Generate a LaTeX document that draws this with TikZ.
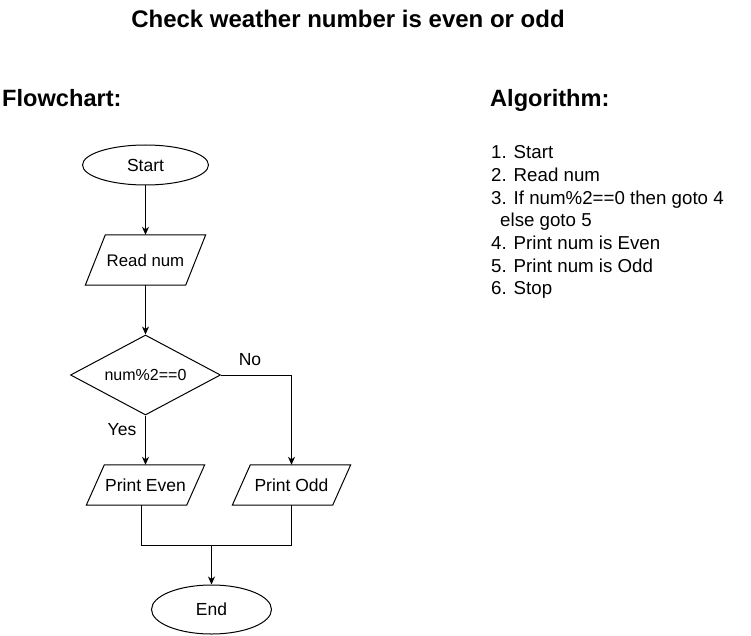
\documentclass[tikz,border=0pt]{standalone}
\usepackage{fontspec}
\setmainfont{Liberation Sans}
\usetikzlibrary{shapes.geometric,arrows.meta}
\tikzset{
  line/.style={draw=black,line width=1pt},
  arr/.style={line,-{Stealth[length=8pt,width=7pt,inset=2.5pt]}},
  oval/.style={ellipse,draw=black,line width=1pt,inner sep=0pt,font=\fontsize{17.5}{20}\selectfont},
  parabox/.style={rectangle,inner sep=0pt,minimum width=100pt,font=\fontsize{17.5}{20}\selectfont},
  decision/.style={diamond,draw=black,line width=1pt,inner sep=0pt,minimum width=150pt,minimum height=80pt,aspect=1.875,font=\fontsize{16}{18}\selectfont},
  lbl/.style={inner sep=0pt,font=\fontsize{17.5}{20}\selectfont},
  heading/.style={inner sep=0pt,anchor=base west,font=\fontsize{23.6}{28}\selectfont\bfseries},
  listline/.style={inner sep=0pt,anchor=base west,font=\fontsize{18.7}{22}\selectfont},
}
\begin{document}
\begin{tikzpicture}[x=1pt,y=-1pt]
\useasboundingbox[fill=white] (0,0) rectangle (751,636);
% title and headings
\node[inner sep=0pt,anchor=base,font=\fontsize{24}{28}\selectfont\bfseries] (title) at (348,28) {Check weather number is even or odd};
\node[heading] (fc) at (2,107) {Flowchart:};
\node[heading] (alg) at (490,107) {Algorithm:};
% algorithm list
\node[listline] (a1) at (491,159) {1. Start};
\node[listline] (a2) at (491,181.6) {2. Read num};
\node[listline] (a3) at (491,204.2) {3. If num\%2==0 then goto 4};
\node[listline] (a4) at (500,226.8) {else goto 5};
\node[listline] (a5) at (491,249.4) {4. Print num is Even};
\node[listline] (a6) at (491,272) {5. Print num is Odd};
\node[listline] (a7) at (491,294.6) {6. Stop};
% flowchart nodes
\node[oval,minimum width=126pt,minimum height=40pt] (start) at (145.5,165) {Start};
\node[parabox,minimum height=50pt,font=\fontsize{16.8}{20}\selectfont] (rd) at (145.5,260) {Read num};
\draw[line] ([xshift=10pt]rd.north west) -- ([xshift=10pt]rd.north east) -- ([xshift=-10pt]rd.south east) -- ([xshift=-10pt]rd.south west) -- cycle;
\node[decision] (dec) at (145.5,375) {num\%2==0};
\node[parabox,minimum height=40pt] (pe) at (145.5,485) {Print Even};
\draw[line] ([xshift=9pt]pe.north west) -- ([xshift=9pt]pe.north east) -- ([xshift=-9pt]pe.south east) -- ([xshift=-9pt]pe.south west) -- cycle;
\node[parabox,minimum height=40pt] (po) at (291.5,485) {Print Odd};
\draw[line] ([xshift=9pt]po.north west) -- ([xshift=9pt]po.north east) -- ([xshift=-9pt]po.south east) -- ([xshift=-9pt]po.south west) -- cycle;
\node[oval,minimum width=120pt,minimum height=49pt] (end) at (211.5,609.5) {End};
\coordinate (j) at (211.5,545);
% connectors
\draw[arr] (start.south) -- (rd.north);
\draw[arr] (rd.south) -- (dec.north);
\draw[arr] (dec.south) -- (pe.north);
\draw[arr] (dec.east) -| (po.north);
\draw[line] ([xshift=-3.8pt]pe.south) |- (j);
\draw[line] (po.south) |- (j);
\draw[arr] (j) -- (end.north);
% labels
\node[lbl] (yes) at (122,430) {Yes};
\node[lbl] (no) at (250,360) {No};
\end{tikzpicture}
\end{document}
